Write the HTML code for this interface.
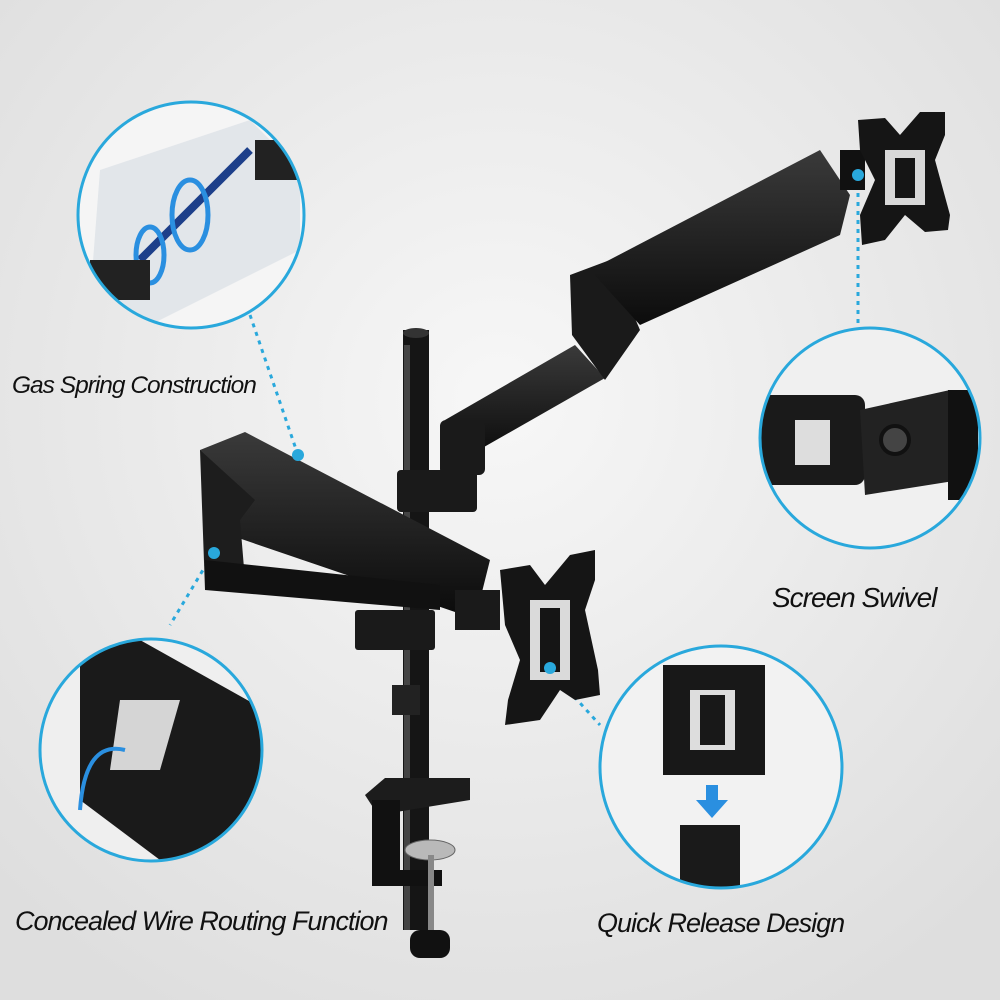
<!DOCTYPE html>
<html><head><meta charset="utf-8"><style>
html,body{margin:0;padding:0;width:1000px;height:1000px;overflow:hidden;background:#ececec}
svg{display:block}
text{font-family:"Liberation Sans",sans-serif;font-style:italic;fill:#111;letter-spacing:-1px}
</style></head><body>
<svg width="1000" height="1000" viewBox="0 0 1000 1000" xmlns="http://www.w3.org/2000/svg">
<defs>
<radialGradient id="bg" cx="50%" cy="40%" r="70%"><stop offset="0" stop-color="#f7f7f7"/><stop offset="1" stop-color="#dedede"/></radialGradient>
<linearGradient id="arm" x1="0" y1="0" x2="0" y2="1"><stop offset="0" stop-color="#3a3a3a"/><stop offset="1" stop-color="#0c0c0c"/></linearGradient>
</defs>
<rect width="1000" height="1000" fill="url(#bg)"/>
<g stroke="#29a8dc" stroke-width="3" stroke-dasharray="4 5" fill="none">
<line x1="250" y1="315" x2="298" y2="455"/>
<line x1="858" y1="175" x2="858" y2="330"/>
<line x1="212" y1="555" x2="170" y2="625"/>
<line x1="550" y1="670" x2="600" y2="725"/>
</g>
<!-- pole -->
<rect x="403" y="330" width="26" height="600" fill="#151515"/>
<rect x="404" y="345" width="6" height="585" fill="#444"/>
<ellipse cx="416" cy="333" rx="13" ry="5" fill="#333"/>
<rect x="397" y="470" width="80" height="42" rx="4" fill="#1a1a1a"/>
<rect x="355" y="610" width="80" height="40" rx="3" fill="#1a1a1a"/>
<rect x="392" y="685" width="28" height="30" fill="#222"/>
<!-- clamp -->
<polygon points="365,795 385,778 470,778 470,800 378,815" fill="#1c1c1c"/>
<rect x="372" y="800" width="28" height="85" fill="#111"/>
<rect x="372" y="870" width="70" height="16" fill="#111"/>
<ellipse cx="430" cy="850" rx="25" ry="10" fill="#b9b9b9" stroke="#666"/>
<rect x="428" y="855" width="6" height="80" fill="#888"/>
<rect x="410" y="930" width="40" height="28" rx="10" fill="#111"/>
<!-- upper arm -->
<polygon points="445,420 575,345 605,378 470,455" fill="url(#arm)"/>
<rect x="440" y="420" width="45" height="55" rx="6" fill="#1a1a1a"/>
<polygon points="570,275 610,260 640,330 605,380 572,335" fill="#1a1a1a"/>
<polygon points="590,270 820,150 850,195 840,235 640,325" fill="url(#arm)"/>
<rect x="840" y="150" width="25" height="40" fill="#111"/>
<!-- top plate -->
<polygon points="858,120 885,118 900,135 920,112 945,112 945,135 935,160 950,215 948,230 925,232 905,215 885,240 862,245 860,215 875,180 860,150" fill="#151515"/>
<rect x="885" y="150" width="40" height="55" fill="#d8d8d8"/>
<rect x="895" y="158" width="20" height="40" fill="#151515"/>
<!-- lower arm -->
<polygon points="200,450 245,432 490,560 480,600 455,612 420,600 215,530" fill="url(#arm)"/>
<polygon points="200,450 205,590 245,580 240,520 255,500" fill="#1d1d1d"/>
<polygon points="205,560 205,590 440,610 440,585" fill="#111"/>
<rect x="455" y="590" width="45" height="40" fill="#1a1a1a"/>
<!-- lower plate -->
<polygon points="500,570 530,565 545,585 570,555 595,550 595,580 585,610 598,670 600,695 575,700 560,690 540,720 505,725 508,700 520,660 505,625" fill="#151515"/>
<rect x="530" y="600" width="40" height="80" fill="#dadada"/>
<rect x="540" y="608" width="20" height="64" fill="#151515"/>
<g fill="#29a8dc">
<circle cx="298" cy="455" r="6"/><circle cx="858" cy="175" r="6"/><circle cx="214" cy="553" r="6"/><circle cx="550" cy="668" r="6"/>
</g>
<clipPath id="c1"><circle cx="191" cy="215" r="113"/></clipPath>
<g clip-path="url(#c1)"><rect x="70" y="95" width="250" height="250" fill="#f5f5f5"/>
<polygon points="100,170 250,120 300,170 300,250 140,330 90,300" fill="#e2e6ea"/>
<line x1="140" y1="260" x2="250" y2="150" stroke="#1d3f8a" stroke-width="8"/>
<ellipse cx="190" cy="215" rx="18" ry="35" fill="none" stroke="#2a8fe0" stroke-width="5"/>
<ellipse cx="150" cy="255" rx="14" ry="28" fill="none" stroke="#2a8fe0" stroke-width="5"/>
<rect x="90" y="260" width="60" height="40" fill="#222"/>
<rect x="255" y="140" width="50" height="40" fill="#222"/></g>
<circle cx="191" cy="215" r="113" fill="none" stroke="#29a8dc" stroke-width="3"/>
<clipPath id="c2"><circle cx="870" cy="438" r="110"/></clipPath>
<g clip-path="url(#c2)"><rect x="755" y="325" width="230" height="230" fill="#f0f0f0"/>
<rect x="760" y="395" width="105" height="90" rx="10" fill="#1a1a1a"/>
<rect x="795" y="420" width="35" height="45" fill="#ddd"/>
<polygon points="860,410 950,390 960,480 865,495" fill="#222"/>
<circle cx="895" cy="440" r="14" fill="#444" stroke="#111" stroke-width="4"/>
<rect x="948" y="390" width="30" height="110" fill="#111"/></g>
<circle cx="870" cy="438" r="110" fill="none" stroke="#29a8dc" stroke-width="3"/>
<clipPath id="c3"><circle cx="151" cy="750" r="111"/></clipPath>
<g clip-path="url(#c3)"><rect x="38" y="635" width="230" height="230" fill="#efefef"/>
<polygon points="80,650 140,640 265,710 265,860 160,860 80,800" fill="#1a1a1a"/>
<polygon points="120,700 180,700 160,770 110,770" fill="#d5d5d5"/>
<path d="M80,810 q5,-70 45,-60" fill="none" stroke="#2a8fe0" stroke-width="4"/></g>
<circle cx="151" cy="750" r="111" fill="none" stroke="#29a8dc" stroke-width="3"/>
<clipPath id="c4"><circle cx="721" cy="767" r="121"/></clipPath>
<g clip-path="url(#c4)"><rect x="598" y="645" width="250" height="250" fill="#f2f2f2"/>
<polygon points="663,665 765,665 765,775 663,775" fill="#181818"/>
<rect x="690" y="690" width="45" height="60" fill="#ddd"/><rect x="700" y="695" width="25" height="50" fill="#181818"/>
<rect x="706" y="785" width="12" height="18" fill="#2a8fe0"/><polygon points="696,800 728,800 712,818" fill="#2a8fe0"/>
<rect x="680" y="825" width="60" height="70" fill="#1a1a1a"/></g>
<circle cx="721" cy="767" r="121" fill="none" stroke="#29a8dc" stroke-width="3"/>
<text x="12" y="393" font-size="24.5">Gas Spring Construction</text>
<text x="772" y="607" font-size="28">Screen Swivel</text>
<text x="15" y="930" font-size="27">Concealed Wire Routing Function</text>
<text x="597" y="932" font-size="27">Quick Release Design</text>
</svg>
</body></html>
